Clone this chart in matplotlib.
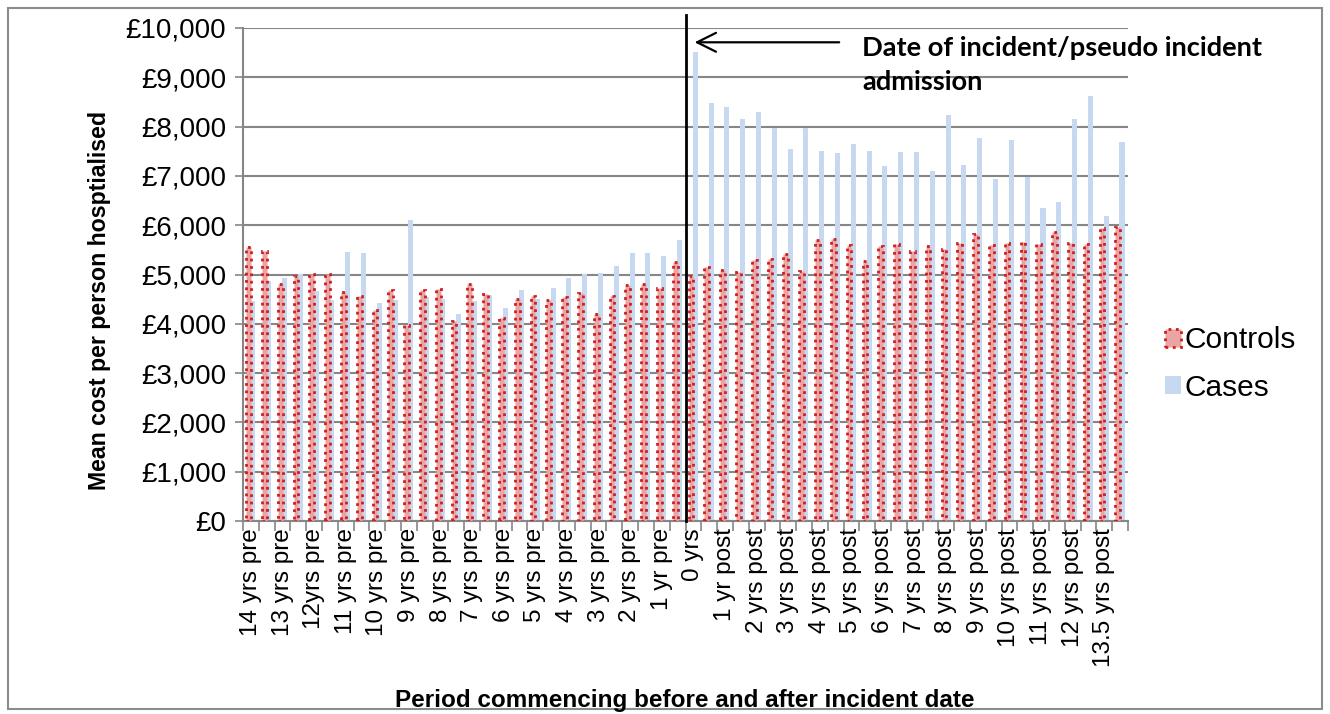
import numpy as np
import matplotlib
matplotlib.use("Agg")
import matplotlib.pyplot as plt
from matplotlib.patches import Rectangle

plt.rcParams['font.family'] = ['Liberation Sans', 'DejaVu Sans']

# half-year periods, 14 yrs pre -> 13.5 yrs post (labels on every other bar)
pre_labels = ['14 yrs pre', '13 yrs pre', '12yrs pre', '11 yrs pre', '10 yrs pre',
              '9 yrs pre', '8 yrs pre', '7 yrs pre', '6 yrs pre', '5 yrs pre',
              '4 yrs pre', '3 yrs pre', '2 yrs pre', '1 yr pre']
post_labels = ['0 yrs', '1 yr post', '2 yrs post', '3 yrs post', '4 yrs post',
               '5 yrs post', '6 yrs post', '7 yrs post', '8 yrs post', '9 yrs post',
               '10 yrs post', '11 yrs post', '12 yrs post', '13.5 yrs post']

controls = [5550, 5470, 4800, 4970, 5010, 5020, 4650, 4570, 4280, 4680,
            3970, 4680, 4700, 4050, 4810, 4600, 4120, 4500, 4570, 4490,
            4550, 4620, 4200, 4570, 4780, 4810, 4730, 5260,
            4970, 5160, 5090, 5050, 5290, 5320, 5420, 5070, 5700, 5720,
            5590, 5270, 5580, 5620, 5470, 5570, 5510, 5630, 5820, 5590,
            5630, 5660, 5610, 5860, 5640, 5620, 5950, 5970]
cases = [4460, 4870, 4930, 5020, 4660, 4490, 5460, 5430, 4430, 4480,
         6100, 4550, 4510, 4200, 4460, 4580, 4330, 4680, 4510, 4720,
         4920, 5010, 5030, 5170, 5430, 5430, 5370, 5700,
         9520, 8470, 8390, 8150, 8300, 7970, 7550, 7970, 7510, 7470,
         7640, 7510, 7210, 7490, 7490, 7090, 8240, 7220, 7770, 6930,
         7720, 6970, 6340, 6470, 8160, 8630, 6180, 7680]

tick_labels = []
for lab in pre_labels + post_labels:
    tick_labels += [lab, '']

W, H = 1330, 714
fig = plt.figure(figsize=(W / 100, H / 100), dpi=100)
ax = fig.add_axes([243 / W, 1 - 521 / H, (1128 - 243) / W, (521 - 28) / H])

x = np.arange(len(controls))
ax.bar(x - 0.15, controls, 0.3, color='#EBA3A3', edgecolor='#CC1F1F',
       linestyle=':', linewidth=2, label='Controls', zorder=3)
ax.bar(x + 0.12, cases, 0.32, color='#C6D9F1', linewidth=0, label='Cases', zorder=2)

ax.set_xlim(-0.5, len(controls) - 0.5)
ax.set_ylim(0, 10000)
ax.set_yticks(np.arange(0, 10001, 1000))
ax.set_yticklabels(['£{:,}'.format(v) for v in range(0, 10001, 1000)])
ax.yaxis.grid(True, color='#868686', linewidth=1.5, zorder=0)
ax.set_axisbelow(True)

ax.set_xticks(x)
ax.set_xticklabels(tick_labels, rotation=90, ha='center', va='top')
ax.set_xticks(np.arange(-0.5, len(controls), 1), minor=True)
ax.tick_params(axis='x', which='major', length=0, pad=5, labelsize=17.5)
ax.tick_params(axis='x', which='minor', length=7, width=1.2, color='#868686')
ax.tick_params(axis='y', length=6, width=1.2, color='#868686', pad=6, labelsize=20)

for s in ['top', 'right']:
    ax.spines[s].set_visible(False)
for s in ['left', 'bottom']:
    ax.spines[s].set_color('#868686')
    ax.spines[s].set_linewidth(1.5)

# incident date marker
ax.plot([27.5, 27.5], [0, 10270], color='black', linewidth=2, clip_on=False, zorder=5)
ax.annotate('', xy=(27.9, 9710), xytext=(37.4, 9710),
            arrowprops=dict(arrowstyle='->', color='black', lw=1.6, mutation_scale=34),
            annotation_clip=False)
ax.text(38.7, 9830, 'Date of incident/pseudo incident\nadmission', fontsize=19.6,
        fontweight='bold', family=['Lato', 'DejaVu Sans'], ha='left', va='top',
        linespacing=1.5)

fig.text(100 / W, 1 - 300 / H, 'Mean cost per person hosptialised', rotation=90,
         ha='center', va='center', fontsize=16.7, fontweight='bold')
fig.text(685 / W, 1 - 700 / H, 'Period commencing before and after incident date',
         ha='center', va='center', fontsize=17.5, fontweight='bold')

fig.legend(loc='center left', bbox_to_anchor=(1144 / W, 1 - 364 / H), frameon=False,
           fontsize=21.5, handlelength=0.55, handleheight=0.55, handletextpad=0.1,
           labelspacing=0.65, borderpad=0.2)

fig.patches.append(Rectangle((8 / W, 5 / H), 1 - 16 / W, 1 - 13 / H, fill=False,
                             edgecolor='#8C8C8C', linewidth=1.5,
                             transform=fig.transFigure, figure=fig))

fig.savefig('out.png', dpi=100)
